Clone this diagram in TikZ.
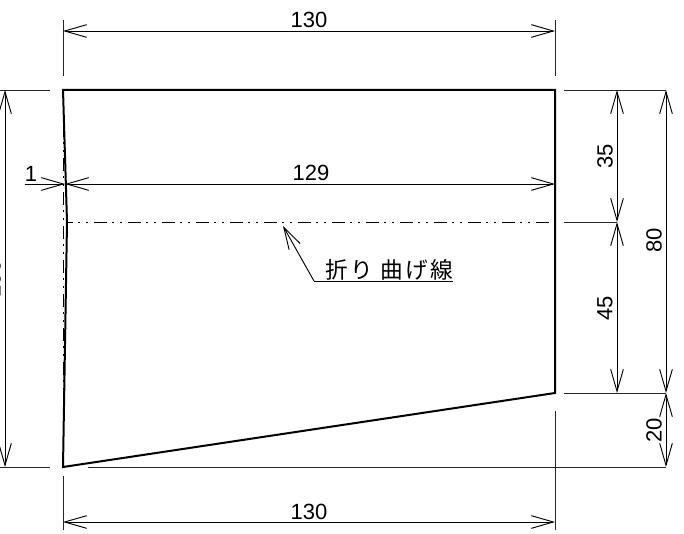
\documentclass[tikz,border=0pt]{standalone}
\usepackage{fontspec}
\setmainfont{Liberation Sans}
\newfontfamily\cjk{Noto Sans CJK JP}
\usetikzlibrary{arrows.meta}
\tikzset{
 x=0.75pt,y=-0.75pt,
 barb/.tip={Straight Barb[length=16.5pt,width=9.5pt,line width=0.7pt]},
 outline/.style={line width=1.5pt,black},
 dimline/.style={line width=0.7pt,black,barb-barb},
 leaderline/.style={line width=0.7pt,black,barb-},
 oneway/.style={line width=0.7pt,black,-barb},
 extline/.style={line width=0.7pt,black!85},
 chain/.style={line width=0.7pt,black,dash pattern=on 9.5pt off 4.2pt on 1.5pt off 4.6pt on 1.5pt off 4.2pt},
 num/.style={font=\fontsize{16.5}{18}\selectfont,inner sep=0pt},
}
\begin{document}
\begin{tikzpicture}
\useasboundingbox (0,0) rectangle (684,534);
\fill[white] (0,0) rectangle (684,534);
% key points
\coordinate (tl) at (63,90);
\coordinate (tr) at (555,90);
\coordinate (br) at (555,393);
\coordinate (bl) at (63,467);
\coordinate (kink) at (67,222);
% true edge (chain) and outline
\draw[chain] (63,90) -- (63,467);
\draw[outline,line join=miter] (kink) -- (tl) -- (tr) -- (br) -- (bl) -- cycle;
% fold line
\coordinate (fr) at (555,222);
\draw[chain,dash phase=5.25pt] (kink) -- (fr);
% extension lines
\draw[extline] (63,20) -- (63,76);
\draw[extline] (555,20) -- (555,76);
\draw[extline] (63,476) -- (63,530);
\draw[extline] (555,411) -- (555,530);
\draw[extline] (0,90) -- (50,90);
\draw[extline] (0,467) -- (50,467);
\draw[extline] (564,90) -- (666,90);
\draw[extline] (564,222) -- (617,222);
\draw[extline] (564,393) -- (666,393);
\draw[extline] (88,467) -- (666,467);
% dimensions
\coordinate (t1) at (63,31); \coordinate (t2) at (555,31);
\draw[dimline] (t1) -- (t2);
\node[num] (n130t) at (309,20) {130};
\coordinate (b1) at (63,522); \coordinate (b2) at (555,522);
\draw[dimline] (b1) -- (b2);
\node[num] (n130b) at (309,512) {130};
\coordinate (l1) at (5,90); \coordinate (l2) at (5,467);
\draw[dimline] (l1) -- (l2);
\node[num,rotate=90] (n100) at (-7,279) {100};
% 129
\coordinate (m1) at (65,184); \coordinate (m2) at (555,184);
\draw[dimline] (m1) -- (m2);
\node[num] (n129) at (311,173) {129};
% 1
\coordinate (o1) at (25,184); \coordinate (o2) at (65,184);
\draw[oneway] (o1) -- (o2);
\node[num] (n1) at (31,174) {1};
% right chain
\coordinate (r1) at (617,90); \coordinate (r2) at (617,222); \coordinate (r3) at (617,393);
\draw[dimline] (r1) -- (r2);
\draw[dimline] (r2) -- (r3);
\node[num,rotate=90] (n35) at (605,156) {35};
\node[num,rotate=90] (n45) at (605,308) {45};
\coordinate (s1) at (666,90); \coordinate (s2) at (666,393); \coordinate (s3) at (666,467);
\draw[dimline] (s1) -- (s2);
\draw[dimline] (s2) -- (s3);
\node[num,rotate=90] (n80) at (654,240) {80};
\node[num,rotate=90] (n20) at (654,430) {20};
% leader
\coordinate (la) at (283,226); \coordinate (lb) at (314,281); \coordinate (lc) at (453,281);
\draw[leaderline] (la) -- (lb);
\draw[line width=0.7pt] (lb) -- (lc);
\node[inner sep=0pt,font=\cjk\fontsize{17}{18}\selectfont] (fold) at (389.5,269.5) {折\kern1.7pt り\kern5.5pt 曲\kern1.7pt げ\kern1.7pt 線};
\end{tikzpicture}
\end{document}
